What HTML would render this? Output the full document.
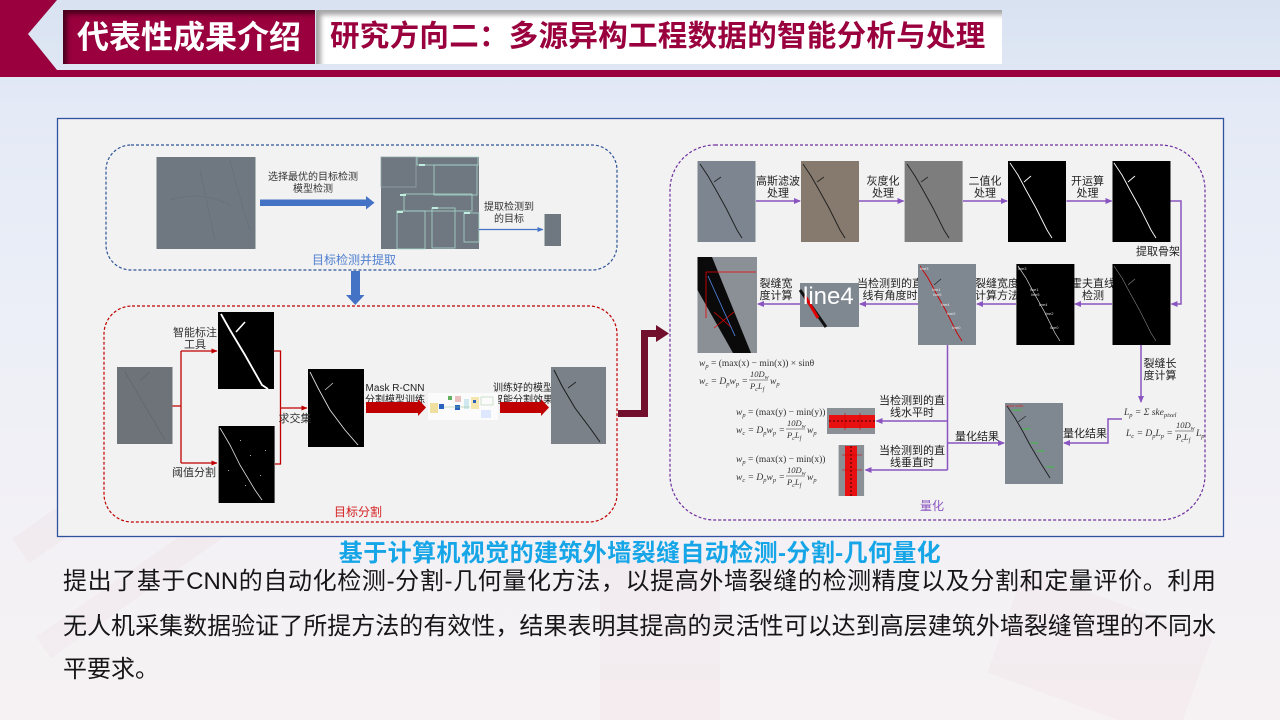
<!DOCTYPE html>
<html><head><meta charset="utf-8">
<style>
html,body{margin:0;padding:0;width:1280px;height:720px;overflow:hidden;background:#eef0f6;}
#root{position:relative;width:1280px;height:720px;overflow:hidden;
background:linear-gradient(180deg,#d8e2f1 0%,#e4eaf6 15%,#eceff7 45%,#f3f1f5 75%,#f6f2f4 100%);
font-family:"Liberation Sans","Noto Sans CJK SC",sans-serif;}
.abs{position:absolute;}
.wm{position:absolute;background:rgba(200,120,140,0.045);}
.t1{left:63px;top:10px;width:252px;height:54px;background:#99003d;box-shadow:inset 4px 4px 5px rgba(40,0,15,0.7);
color:#fff;font-weight:700;font-size:32px;line-height:54px;text-align:center;}
.t2{left:316px;top:10px;width:686px;height:54px;background:#fff;box-shadow:inset 5px 5px 5px rgba(0,0,0,0.35);
color:#99003d;font-weight:700;font-size:29.5px;line-height:54px;padding-left:14px;box-sizing:border-box;letter-spacing:0.3px;white-space:nowrap;overflow:hidden;}
.title{left:0;width:1280px;top:540px;text-align:center;font-size:24px;font-weight:700;color:#16a6e8;line-height:28px;letter-spacing:0.4px;white-space:nowrap;}
.pl{left:63px;width:1153px;font-size:24px;color:#161616;line-height:30px;white-space:nowrap;}
.j{text-align:justify;text-align-last:justify;}
</style></head><body>
<div id="root">
<div class="wm" style="left:0;top:470px;width:230px;height:30px;transform:rotate(-35deg);"></div>
<div class="wm" style="left:20px;top:560px;width:260px;height:26px;transform:rotate(-35deg);"></div>
<div class="wm" style="left:600px;top:560px;width:120px;height:160px;"></div>
<div class="wm" style="left:1000px;top:600px;width:200px;height:110px;transform:rotate(20deg);"></div>

<svg class="abs" style="left:0;top:0" width="1280" height="80">
<polygon points="0,0 57,0 28,34 57,70 0,70" fill="#99003d"/>
<rect x="0" y="70" width="1280" height="7" fill="#99003d"/>
</svg>
<div class="abs t1">代表性成果介绍</div>
<div class="abs t2">研究方向二：多源异构工程数据的智能分析与处理</div>

<svg class="abs" style="left:0;top:0" width="1280" height="720" font-family="'Liberation Sans','Noto Sans CJK SC',sans-serif">
<defs>
<marker id="mb" markerWidth="6" markerHeight="6" refX="5.5" refY="3" orient="auto" markerUnits="userSpaceOnUse"><path d="M0,0.5 L6,3 L0,5.5z" fill="#4472c4"/></marker>
<marker id="mr" markerWidth="6" markerHeight="6" refX="5.5" refY="3" orient="auto" markerUnits="userSpaceOnUse"><path d="M0,0.5 L6,3 L0,5.5z" fill="#c00000"/></marker>
<marker id="mp" markerWidth="7" markerHeight="7" refX="6" refY="3.5" orient="auto" markerUnits="userSpaceOnUse"><path d="M0,0.5 L7,3.5 L0,6.5z" fill="#8a55c0"/></marker>
</defs>
<rect x="57.5" y="118.5" width="1166" height="418" fill="#f2f2f2" stroke="#2f52a0" stroke-width="1.3"/>

<rect x="106" y="145" width="511" height="125" rx="25" fill="none" stroke="#2f5597" stroke-width="1.2" stroke-dasharray="3,2"/>
<rect x="156.5" y="157" width="99" height="92" fill="#6f7880"/>
<path d="M170,200 Q200,190 230,205 M200,170 L215,240 M230,160 Q240,200 250,230" stroke="#66707a" stroke-width="0.7" fill="none"/>
<rect x="260" y="199.5" width="107" height="6.5" fill="#4472c4"/>
<polygon points="366,196 374.5,202.7 366,209.5" fill="#4472c4"/>
<g font-size="10" fill="#333" text-anchor="middle">
<text x="313" y="180">选择最优的目标检测</text>
<text x="313" y="192">模型检测</text>
<text x="509" y="210">提取检测到</text>
<text x="509" y="222">的目标</text>
</g>
<rect x="381" y="157" width="98" height="92" fill="#6f7880"/>
<g fill="none" stroke="#a8d8cc" stroke-width="0.8">
<rect x="381" y="157" width="35" height="30" stroke="#8fa6a6"/>
<rect x="417" y="157" width="61" height="8"/>
<rect x="434" y="165" width="43" height="30"/>
<rect x="404" y="194" width="68" height="17"/>
<rect x="397" y="211" width="28" height="38"/>
<rect x="432" y="208" width="23" height="40"/>
<rect x="464" y="213" width="15" height="29"/>
</g>
<g fill="#bfeee0"><rect x="419" y="164" width="6" height="2"/><rect x="400" y="194" width="6" height="2"/><rect x="397" y="211" width="6" height="2"/><rect x="432" y="207" width="6" height="2"/><rect x="464" y="212" width="6" height="2"/></g>
<line x1="479" y1="229.5" x2="543" y2="229.5" stroke="#4472c4" stroke-width="1.2" marker-end="url(#mb)"/>
<rect x="544.5" y="214" width="16.5" height="32" fill="#6f7880"/>
<text x="354" y="264" font-size="12" fill="#4f7fcf" text-anchor="middle">目标检测并提取</text>
<rect x="351" y="271" width="9" height="25" fill="#4472c4"/>
<polygon points="346,295 364.5,295 355.3,305" fill="#4472c4"/>

<rect x="104" y="306" width="513" height="216" rx="28" fill="none" stroke="#c00000" stroke-width="1.2" stroke-dasharray="3,2"/>
<rect x="117" y="367" width="55.5" height="77" fill="#6d7379"/>
<path d="M125,372 L165,440 M140,380 L150,372" stroke="#5d636a" stroke-width="0.6" fill="none"/>
<g stroke="#c00000" stroke-width="1.3" fill="none">
<path d="M172.5,406 H181 M181,351 V463"/>
<path d="M181,351 H217" marker-end="url(#mr)"/>
<path d="M181,463 H217" marker-end="url(#mr)"/>
<path d="M274,351 H280.5 V464 H275"/>
<path d="M280.5,408 H307" marker-end="url(#mr)"/>
</g>
<rect x="218" y="312" width="56" height="77" fill="#000"/>
<path d="M221,314 L230,330 L245,355 L262,385 L268,389" stroke="#fff" stroke-width="1.8" fill="none"/>
<path d="M236,332 L245,322" stroke="#fff" stroke-width="1.6"/>
<rect x="218.6" y="426" width="56" height="77" fill="#000"/>
<path d="M220,428 L230,445 L240,465 L255,490 L262,500" stroke="#ddd" stroke-width="0.8" fill="none"/>
<g fill="#aaa"><rect x="240" y="440" width="1" height="1"/><rect x="250" y="455" width="1" height="1"/><rect x="228" y="470" width="1" height="1"/><rect x="260" y="475" width="1" height="1"/><rect x="245" y="485" width="1" height="1"/><rect x="265" y="450" width="1" height="1"/></g>
<rect x="308" y="369" width="56" height="78" fill="#000"/>
<path d="M310,372 L318,388 L330,410 L345,430 L358,445" stroke="#ddd" stroke-width="0.9" fill="none"/>
<path d="M325,390 L333,383" stroke="#ccc" stroke-width="0.8"/>
<g font-size="11" fill="#333" text-anchor="middle">
<text x="195" y="336">智能标注</text>
<text x="195" y="348">工具</text>
<text x="194" y="476">阈值分割</text>
<text x="295" y="422">求交集</text>
</g>
<g font-size="10" fill="#222" text-anchor="middle">
<text x="395" y="391">Mask R-CNN</text>
<text x="395" y="403">分割模型训练</text>
<text x="523" y="391">训练好的模型</text>
<text x="523" y="403">智能分割效果</text>
</g>
<rect x="366" y="402" width="53" height="11" fill="#c00000"/>
<polygon points="418,399 426,407.5 418,416" fill="#c00000"/>
<rect x="428" y="393" width="70" height="27" fill="#fbfbfb"/>
<g>
<rect x="430" y="403" width="8" height="10" fill="#f0e0a0"/><rect x="439" y="404" width="5" height="5" fill="#2a62c0"/>
<rect x="448" y="396" width="4" height="4" fill="#60b060"/><rect x="455" y="396" width="6" height="6" fill="#e8c0c0"/>
<rect x="455" y="405" width="5" height="5" fill="#2a62c0"/><rect x="464" y="399" width="5" height="10" fill="#d0e8f0"/>
<rect x="471" y="397" width="8" height="12" fill="#f5e6b0"/><rect x="473" y="400" width="3" height="3" fill="#2a62c0"/>
<rect x="481" y="397" width="12" height="8" fill="none" stroke="#b0d0b0" stroke-width="0.6"/>
<rect x="481" y="410" width="10" height="8" fill="#dde8ff"/>
<line x1="444" y1="407" x2="470" y2="407" stroke="#8bc08b" stroke-width="0.5"/>
</g>
<rect x="500" y="402" width="42" height="11" fill="#c00000"/>
<polygon points="541,399 549,407.5 541,416" fill="#c00000"/>
<rect x="551" y="367" width="55" height="77" fill="#7b8189"/>
<path d="M554,370 L562,386 L575,408 L590,428 L600,442" stroke="#1a1a1a" stroke-width="1" fill="none"/>
<path d="M568,388 L576,382" stroke="#222" stroke-width="0.9"/>
<text x="358" y="516" font-size="12" fill="#d42020" text-anchor="middle">目标分割</text>

<path d="M618,413.5 H644.5 V333.5 H657" stroke="#720f2d" stroke-width="7" fill="none"/>
<polygon points="656,325 669,333.5 656,342" fill="#720f2d"/>

<rect x="670" y="145" width="535" height="375" rx="45" fill="none" stroke="#7030a0" stroke-width="1.2" stroke-dasharray="3,2"/>
<rect x="697.5" y="161" width="58" height="81" fill="#7c8590"/>
<path d="M700,164 L708,176 L716,190 L726,208 L737,230 L742,238" stroke="#1c1c1c" stroke-width="0.9" fill="none"/>
<path d="M714,182 L721,177" stroke="#222" stroke-width="0.8"/>
<rect x="801" y="161" width="58" height="81" fill="#857a6d"/>
<path d="M803,164 L811,176 L819,190 L829,208 L840,230 L845,238" stroke="#1c1c1c" stroke-width="0.9" fill="none"/>
<path d="M817,182 L824,177" stroke="#222" stroke-width="0.8"/>
<rect x="904.6" y="161" width="58" height="81" fill="#7d7d7d"/>
<path d="M907,164 L915,176 L923,190 L933,208 L944,230 L949,238" stroke="#1c1c1c" stroke-width="0.9" fill="none"/>
<path d="M921,182 L928,177" stroke="#222" stroke-width="0.8"/>
<rect x="1008" y="161" width="58" height="81" fill="#000"/>
<path d="M1010,163 L1018,175 L1026,190 L1036,208 L1047,230 L1052,238" stroke="#fff" stroke-width="0.9" fill="none"/>
<path d="M1024,182 L1031,176" stroke="#fff" stroke-width="0.9"/>
<rect x="1112.5" y="161" width="58" height="81" fill="#000"/>
<path d="M1114,163 L1122,175 L1130,190 L1140,208 L1151,230 L1156,238" stroke="#fff" stroke-width="0.9" fill="none"/>
<path d="M1128,182 L1135,176" stroke="#fff" stroke-width="0.9"/>
<g stroke="#8a55c0" stroke-width="1.5" fill="none">
<path d="M756,201 H800" marker-end="url(#mp)"/>
<path d="M859,201 H903.5" marker-end="url(#mp)"/>
<path d="M963,201 H1007" marker-end="url(#mp)"/>
<path d="M1066.5,201 H1111.5" marker-end="url(#mp)"/>
<path d="M1170.5,201 H1181 V304 H1171.5" marker-end="url(#mp)"/>
<path d="M1112,304 H1075" marker-end="url(#mp)"/>
<path d="M1016,304 H977" marker-end="url(#mp)"/>
<path d="M918,304 H860" marker-end="url(#mp)"/>
<path d="M800,304 H758" marker-end="url(#mp)"/>
<path d="M947.5,345 V470"/>
<path d="M947.5,421 H876.5" marker-end="url(#mp)"/>
<path d="M947.5,470 H865.5" marker-end="url(#mp)"/>
<path d="M947.5,443 H1004" marker-end="url(#mp)"/>
<path d="M1141,345 V402" marker-end="url(#mp)"/>
<path d="M1122,419 H1108 V443 H1064" marker-end="url(#mp)"/>
</g>
<g font-size="11" fill="#222" text-anchor="middle">
<text x="778" y="184.5">高斯滤波</text><text x="778" y="196.5">处理</text>
<text x="883" y="184.5">灰度化</text><text x="883" y="196.5">处理</text>
<text x="985" y="184.5">二值化</text><text x="985" y="196.5">处理</text>
<text x="1087.5" y="184.5">开运算</text><text x="1087.5" y="196.5">处理</text>
<text x="1158" y="255">提取骨架</text>
<text x="1093" y="287">霍夫直线</text><text x="1093" y="299">检测</text>
<text x="997" y="287">裂缝宽度</text><text x="997" y="299">计算方法</text>
<text x="890" y="287">当检测到的直</text><text x="890" y="299">线有角度时</text>
<text x="776" y="287">裂缝宽</text><text x="776" y="299">度计算</text>
<text x="912" y="404">当检测到的直</text><text x="912" y="416">线水平时</text>
<text x="912" y="454">当检测到的直</text><text x="912" y="466">线垂直时</text>
<text x="977" y="440">量化结果</text>
<text x="1085" y="437">量化结果</text>
<text x="1160" y="367">裂缝长</text><text x="1160" y="379">度计算</text>
</g>
<rect x="1112.5" y="264" width="58" height="81" fill="#000"/>
<path d="M1114,266 L1122,278 L1130,293 L1140,311 L1151,333 L1156,341" stroke="#888" stroke-width="0.6" fill="none"/>
<path d="M1128,285 L1135,279" stroke="#888" stroke-width="0.6"/>
<rect x="1016.4" y="264" width="58" height="81" fill="#000"/>
<path d="M1018,266 L1026,278 L1034,293 L1044,311 L1055,333 L1060,341" stroke="#ddd" stroke-width="0.7" fill="none"/>
<g font-size="4" fill="#ddd"><text x="1018" y="270">line3</text><text x="1030" y="291">line1</text><text x="1031" y="296">line5</text><text x="1039" y="306">line4</text><text x="1045" y="315">line2</text><text x="1050" y="329">line0</text></g>
<rect x="918" y="264" width="58" height="81" fill="#7f8791"/>
<path d="M920,266 L928,278 L936,293 L946,311 L957,333 L962,341" stroke="#c00" stroke-width="0.9" fill="none"/>
<path d="M934,285 L941,279" stroke="#222" stroke-width="0.7"/>
<g font-size="4" fill="#eee"><text x="920" y="270">line3</text><text x="932" y="291">line1</text><text x="933" y="296">line5</text><text x="941" y="306">line4</text><text x="947" y="315">line2</text><text x="952" y="329">line0</text></g>
<rect x="800" y="283" width="59" height="44" fill="#7f8791"/>
<path d="M800,290 L826,327" stroke="#111" stroke-width="3" fill="none"/>
<path d="M805,296 L818,318" stroke="#e00000" stroke-width="3"/>
<text x="803" y="304" font-size="24" fill="#fff" font-family="'Liberation Sans',sans-serif">line4</text>
<rect x="697.5" y="257" width="59.5" height="96" fill="#8a9096"/>
<polygon points="697.5,257 712,257 751,353 733,353 697.5,290" fill="#0a0a0a"/>
<path d="M706,272 H756 M706,272 V318" stroke="#e00" stroke-width="0.8" fill="none"/>
<path d="M714,312 L732,328 M714,328 L734,312" stroke="#e00" stroke-width="0.7"/>
<path d="M708,276 L735,336" stroke="#4a7fd8" stroke-width="0.9"/>

<g font-family="'Liberation Serif',serif" font-size="9.5" fill="#333" font-style="italic">
<text x="699" y="366">w<tspan font-size="6.5" dy="2">p</tspan><tspan dy="-2" font-style="normal"> = (max(x) − min(x)) × sinθ</tspan></text>
<text x="699" y="384">w<tspan font-size="6.5" dy="2">c</tspan><tspan dy="-2"> = D</tspan><tspan font-size="6.5" dy="2">p</tspan><tspan dy="-2">w</tspan><tspan font-size="6.5" dy="2">p</tspan><tspan dy="-2"> =</tspan></text>
<text x="750" y="377" font-size="8.5">10D<tspan font-size="6" dy="2">w</tspan></text>
<line x1="749" y1="380" x2="768" y2="380" stroke="#333" stroke-width="0.6"/>
<text x="750" y="389" font-size="8.5">P<tspan font-size="6" dy="2">c</tspan><tspan dy="-2">L</tspan><tspan font-size="6" dy="2">f</tspan></text>
<text x="770" y="384">w<tspan font-size="6.5" dy="2">p</tspan></text>

<text x="736" y="415">w<tspan font-size="6.5" dy="2">p</tspan><tspan dy="-2" font-style="normal"> = (max(y) − min(y))</tspan></text>
<text x="736" y="433">w<tspan font-size="6.5" dy="2">c</tspan><tspan dy="-2"> = D</tspan><tspan font-size="6.5" dy="2">p</tspan><tspan dy="-2">w</tspan><tspan font-size="6.5" dy="2">p</tspan><tspan dy="-2"> =</tspan></text>
<text x="787" y="426" font-size="8.5">10D<tspan font-size="6" dy="2">w</tspan></text>
<line x1="786" y1="429" x2="805" y2="429" stroke="#333" stroke-width="0.6"/>
<text x="787" y="438" font-size="8.5">P<tspan font-size="6" dy="2">c</tspan><tspan dy="-2">L</tspan><tspan font-size="6" dy="2">f</tspan></text>
<text x="807" y="433">w<tspan font-size="6.5" dy="2">p</tspan></text>

<text x="736" y="462">w<tspan font-size="6.5" dy="2">p</tspan><tspan dy="-2" font-style="normal"> = (max(x) − min(x))</tspan></text>
<text x="736" y="480">w<tspan font-size="6.5" dy="2">c</tspan><tspan dy="-2"> = D</tspan><tspan font-size="6.5" dy="2">p</tspan><tspan dy="-2">w</tspan><tspan font-size="6.5" dy="2">p</tspan><tspan dy="-2"> =</tspan></text>
<text x="787" y="473" font-size="8.5">10D<tspan font-size="6" dy="2">w</tspan></text>
<line x1="786" y1="476" x2="805" y2="476" stroke="#333" stroke-width="0.6"/>
<text x="787" y="485" font-size="8.5">P<tspan font-size="6" dy="2">c</tspan><tspan dy="-2">L</tspan><tspan font-size="6" dy="2">f</tspan></text>
<text x="807" y="480">w<tspan font-size="6.5" dy="2">p</tspan></text>

<text x="1124" y="415">L<tspan font-size="6.5" dy="2">p</tspan><tspan dy="-2"> = Σ ske</tspan><tspan font-size="6.5" dy="2">pixel</tspan></text>
<text x="1126" y="436">L<tspan font-size="6.5" dy="2">c</tspan><tspan dy="-2"> = D</tspan><tspan font-size="6.5" dy="2">p</tspan><tspan dy="-2">L</tspan><tspan font-size="6.5" dy="2">p</tspan><tspan dy="-2"> =</tspan></text>
<text x="1176" y="428" font-size="8.5">10D<tspan font-size="6" dy="2">w</tspan></text>
<line x1="1175" y1="431" x2="1194" y2="431" stroke="#333" stroke-width="0.6"/>
<text x="1176" y="440" font-size="8.5">P<tspan font-size="6" dy="2">c</tspan><tspan dy="-2">L</tspan><tspan font-size="6" dy="2">f</tspan></text>
<text x="1196" y="436">L<tspan font-size="6.5" dy="2">p</tspan></text>
</g>

<rect x="827" y="408" width="48" height="26" fill="#8a9096"/>
<rect x="829" y="415" width="46" height="13" fill="#e81010"/>
<path d="M829,421 H875" stroke="#300" stroke-width="1" stroke-dasharray="2,2"/>
<path d="M845,413 V430 M860,413 V430" stroke="#c00" stroke-width="0.6"/>
<rect x="838.6" y="445" width="25.5" height="51" fill="#8a9096"/>
<rect x="845" y="446" width="12" height="50" fill="#e81010"/>
<path d="M851,446 V496" stroke="#300" stroke-width="1" stroke-dasharray="2,2"/>
<path d="M842,455 H862 M842,470 H862" stroke="#c00" stroke-width="0.6"/>
<rect x="1005" y="403" width="58" height="81" fill="#7f8791"/>
<path d="M1007,406 L1015,418 L1022,430 L1030,445 L1040,462 L1050,478" stroke="#1c1c1c" stroke-width="0.9" fill="none"/>
<path d="M1018,422 L1026,416" stroke="#222" stroke-width="0.7"/>
<g font-size="3.5" fill="#3c3"><text x="1012" y="411">crack1</text><text x="1022" y="430">crack</text><text x="1030" y="444">crack</text><text x="1036" y="452">crack</text><text x="1046" y="468">crack</text></g>
<text x="1006" y="407" font-size="3.5" fill="#c33">crack width</text>
<text x="932" y="510" font-size="12" fill="#8a55c0" text-anchor="middle">量化</text>
</svg>

<div class="abs title">基于计算机视觉的建筑外墙裂缝自动检测-分割-几何量化</div>
<div class="abs pl j" style="top:567px;">提出了基于CNN的自动化检测-分割-几何量化方法，以提高外墙裂缝的检测精度以及分割和定量评价。利用</div>
<div class="abs pl j" style="top:612px;">无人机采集数据验证了所提方法的有效性，结果表明其提高的灵活性可以达到高层建筑外墙裂缝管理的不同水</div>
<div class="abs pl" style="top:655px;">平要求。</div>
</div>
</body></html>
